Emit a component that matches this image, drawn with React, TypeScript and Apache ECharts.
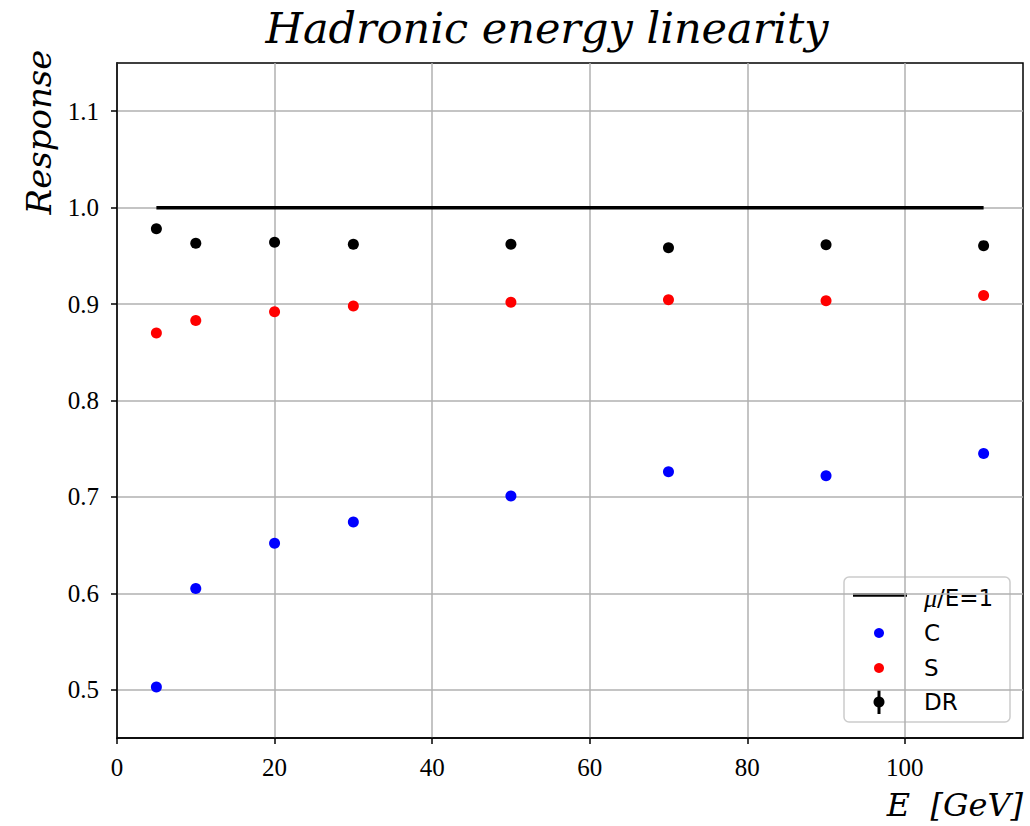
import React, { useEffect, useRef } from "react";
import * as echarts from "echarts";

const energies = [5, 10, 20, 30, 50, 70, 90, 110];
const respC = [0.503, 0.605, 0.652, 0.674, 0.701, 0.726, 0.722, 0.745];
const respS = [0.870, 0.883, 0.892, 0.898, 0.902, 0.9045, 0.9035, 0.909];
const respDR = [0.978, 0.963, 0.964, 0.962, 0.962, 0.9585, 0.9616, 0.9606];
const unityLine = [[5, 1.0], [110, 1.0]];
const xTicks = [0, 20, 40, 60, 80, 100];
const yTicks = [0.5, 0.6, 0.7, 0.8, 0.9, 1.0, 1.1];
const legendLabels = ["μ/E=1", "C", "S", "DR"];

export default function App() {
  const ref = useRef<HTMLDivElement>(null);
  useEffect(() => {
    if (!ref.current) return;
    const chart = echarts.init(ref.current, null, { renderer: "svg" });
    const serif = "Liberation Serif";
    const italicSerif = "DejaVu Serif";
    const sans = "DejaVu Sans";
    const lx = 844, ly = 577, lw = 166, lh = 145;
    const rows = [598, 633, 668, 702];
    const textX = 924;
    const iconX = 879;
    chart.setOption({
      animation: false,
      backgroundColor: "#ffffff",
      grid: {
        left: 117,
        top: 63,
        right: 7,
        bottom: 88,
        show: true,
        borderColor: "#000",
        borderWidth: 1.5,
        backgroundColor: "transparent",
      },
      xAxis: {
        type: "value",
        min: 0,
        max: 115,
        minInterval: 20,
        maxInterval: 20,
        splitNumber: 6,
        axisLine: { lineStyle: { color: "#000", width: 1.5 } },
        axisTick: { show: true, length: 6, lineStyle: { color: "#000", width: 1.5 }, customValues: xTicks },
        axisLabel: {
          customValues: xTicks,
          color: "#000",
          fontFamily: serif,
          fontSize: 25,
          margin: 17,
        },
        splitLine: { show: true, lineStyle: { color: "#b0b0b0", width: 1.5 } },
      },
      yAxis: {
        type: "value",
        min: 0.45,
        max: 1.15,
        minInterval: 0.1,
        maxInterval: 0.1,
        splitNumber: 7,
        axisLine: { show: true, lineStyle: { color: "#000", width: 1.5 } },
        axisTick: { show: true, length: 6, lineStyle: { color: "#000", width: 1.5 }, customValues: yTicks },
        axisLabel: {
          customValues: yTicks,
          color: "#000",
          fontFamily: serif,
          fontSize: 25,
          margin: 18,
          formatter: (v: number) => v.toFixed(1),
        },
        splitLine: { show: true, lineStyle: { color: "#b0b0b0", width: 1.5 } },
      },
      series: [
        {
          name: legendLabels[0],
          type: "line",
          data: unityLine,
          showSymbol: false,
          lineStyle: { color: "#000", width: 3.5 },
          z: 5,
        },
        {
          name: legendLabels[1],
          type: "scatter",
          data: energies.map((e, i) => [e, respC[i]]),
          symbolSize: 11,
          itemStyle: { color: "#0000ff", opacity: 1 },
        },
        {
          name: legendLabels[2],
          type: "scatter",
          data: energies.map((e, i) => [e, respS[i]]),
          symbolSize: 11,
          itemStyle: { color: "#ff0000", opacity: 1 },
        },
        {
          name: legendLabels[3],
          type: "scatter",
          data: energies.map((e, i) => [e, respDR[i]]),
          symbolSize: 11,
          itemStyle: { color: "#000000", opacity: 1 },
        },
      ],
      graphic: [
        {
          type: "text",
          x: 547,
          y: 28,
          style: {
            text: "Hadronic energy linearity",
            font: `italic 43px ${italicSerif}`,
            fill: "#000",
            align: "center",
            verticalAlign: "middle",
          },
        },
        {
          type: "text",
          x: 39,
          y: 132,
          rotation: Math.PI / 2,
          style: {
            text: "Response",
            font: `italic 34px ${italicSerif}`,
            fill: "#000",
            align: "center",
            verticalAlign: "middle",
          },
        },
        {
          type: "text",
          x: 1023,
          y: 805,
          style: {
            text: "E  [GeV]",
            font: `italic 32px ${italicSerif}`,
            fill: "#000",
            align: "right",
            verticalAlign: "middle",
          },
        },
        {
          type: "group",
          z: 100,
          children: [
            {
              type: "rect",
              shape: { x: lx, y: ly, width: lw, height: lh, r: 5 },
              style: { fill: "rgba(255,255,255,0.85)", stroke: "#cccccc", lineWidth: 1.5 },
            },
            {
              type: "line",
              shape: { x1: 853, y1: rows[0] - 3, x2: 907, y2: rows[0] - 3 },
              style: { stroke: "#000", lineWidth: 3.5 },
            },
            { type: "circle", shape: { cx: iconX, cy: rows[1], r: 5 }, style: { fill: "#0000ff" } },
            { type: "circle", shape: { cx: iconX, cy: rows[2], r: 5 }, style: { fill: "#ff0000" } },
            {
              type: "line",
              shape: { x1: iconX, y1: rows[3] - 12, x2: iconX, y2: rows[3] + 12 },
              style: { stroke: "#000", lineWidth: 3 },
            },
            { type: "circle", shape: { cx: iconX, cy: rows[3], r: 5.5 }, style: { fill: "#000" } },
            ...legendLabels.map((t, i) => ({
              type: "text",
              x: textX,
              y: rows[i],
              style: {
                text: i === 0 ? "{i|μ}/E=1" : t,
                font: `23px ${sans}`,
                fill: "#000",
                verticalAlign: "middle",
                rich: { i: { fontSize: 26, fontStyle: "italic", fontFamily: serif } },
              },
            })),
          ],
        },
      ],
    });
    return () => chart.dispose();
  }, []);
  return <div ref={ref} style={{ width: 1030, height: 826, position: "absolute", left: 0, top: 0 }} />;
}
